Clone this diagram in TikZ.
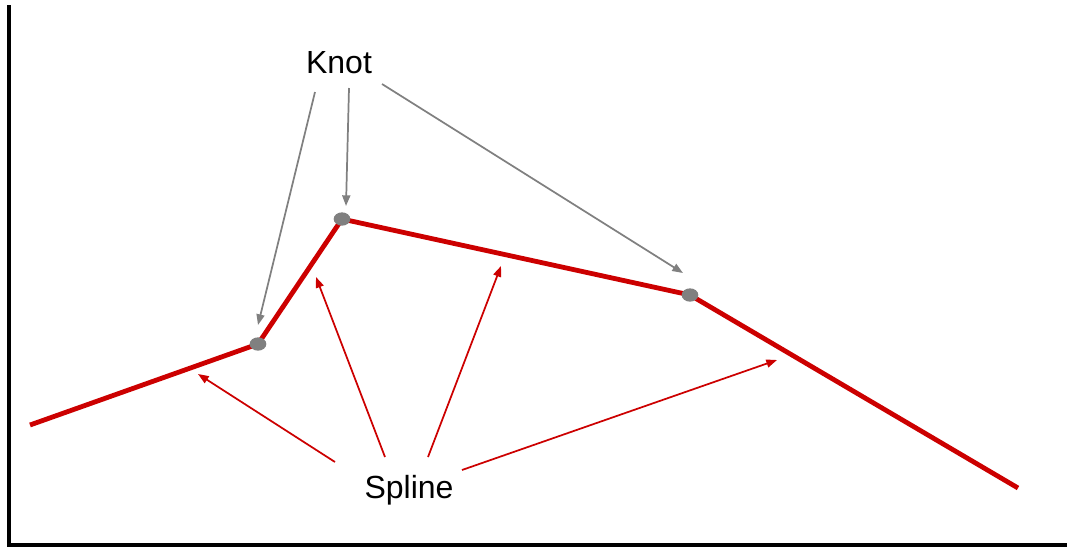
\documentclass[tikz,border=0pt]{standalone}
\usepackage{fontspec}
\setmainfont{Liberation Sans}
\usetikzlibrary{arrows.meta,shapes.geometric}
\definecolor{splinered}{RGB}{204,0,0}
\definecolor{knotgray}{RGB}{128,128,128}
\begin{document}
\begin{tikzpicture}[x=0.75pt,y=-0.75pt,
  axis/.style={line width=3.3pt,black},
  splineline/.style={line width=3.6pt,splinered,line join=round},
  knotdot/.style={ellipse,fill=knotgray,minimum width=12.5pt,minimum height=10pt,inner sep=0pt},
  knotarrow/.style={line width=1.3pt,knotgray,-{Triangle[length=8pt,width=6pt]}},
  splinearrow/.style={line width=1.3pt,splinered,-{Triangle[length=8pt,width=6pt]}},
  lbl/.style={font=\fontsize{24}{28}\selectfont,inner sep=1pt}]
\useasboundingbox (0,0) rectangle (1067,551);
% axes
\draw[axis] (9,5) -- (9,545) -- (1067,545);
% spline and knots
\coordinate (s0) at (30,425);
\coordinate (k1) at (258,344);
\coordinate (k2) at (342,219);
\coordinate (k3) at (690,295);
\coordinate (s4) at (1018,488);
\draw[splineline] (s0) -- (k1) -- (k2) -- (k3) -- (s4);
\node[knotdot] (n1) at (k1) {};
\node[knotdot] (n2) at (k2) {};
\node[knotdot] (n3) at (k3) {};
% labels
\node[lbl] (knot) at (339,63) {Knot};
\node[lbl] (spline) at (409,490) {Spline};
% knot pointers
\coordinate (ka1) at (258,325);
\coordinate (ka2) at (346,206);
\coordinate (ka3) at (683,273);
\draw[knotarrow] (315,92) -- (ka1);
\draw[knotarrow] (349,88) -- (ka2);
\draw[knotarrow] (382,84) -- (ka3);
% spline pointers
\coordinate (sa1) at (198,374);
\coordinate (sa2) at (316,277);
\coordinate (sa3) at (501,266);
\coordinate (sa4) at (777,360);
\draw[splinearrow] (335,462) -- (sa1);
\draw[splinearrow] (385,457) -- (sa2);
\draw[splinearrow] (428,457) -- (sa3);
\draw[splinearrow] (462,470) -- (sa4);
\end{tikzpicture}
\end{document}
